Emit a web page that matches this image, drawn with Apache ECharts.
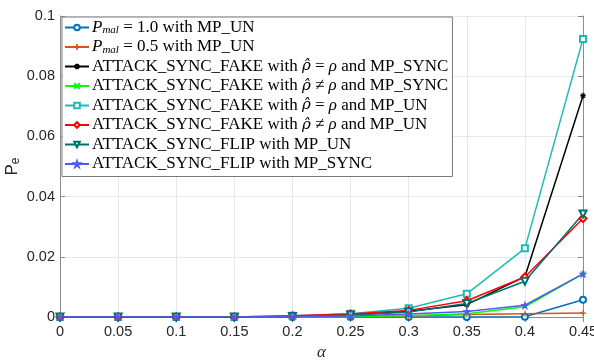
<!DOCTYPE html>
<html>
<head>
<meta charset="utf-8">
<script src="https://cdn.jsdelivr.net/npm/echarts@6/dist/echarts.min.js"></script>
<style>
  html, body { margin: 0; padding: 0; background: #fff; }
  #chart { width: 594px; height: 362px; }
</style>
</head>
<body>
<div id="chart"></div>
<script>
// alpha values on the x axis
const alphas = ['0', '0.05', '0.1', '0.15', '0.2', '0.25', '0.3', '0.35', '0.4', '0.45']
const yTicks = [0, 0.02, 0.04, 0.06, 0.08, 0.1]

const names = [
  'pmal10_un',
  'pmal05_un',
  'fake_eq_sync',
  'fake_ne_sync',
  'fake_eq_un',
  'fake_ne_un',
  'flip_un',
  'flip_sync'
]

const pmal10Un = [0, 0, 0, 0, 0, 0, 0, 0, 0.0001, 0.0057]
const pmal05Un = [0, 0, 0, 0, 0, 0.0001, 0.0003, 0.0008, 0.0011, 0.0013]
const fakeEqSync = [0, 0, 0, 0, 0.0002, 0.0006, 0.0019, 0.0041, 0.0134, 0.0735]
const fakeNeSync = [0, 0, 0, 0, 0.0001, 0.0002, 0.0004, 0.0011, 0.0034, 0.0143]
const fakeEqUn = [0, 0, 0, 0, 0.0004, 0.0011, 0.0029, 0.0077, 0.0228, 0.0924]
const fakeNeUn = [0, 0, 0, 0, 0.0004, 0.0010, 0.0022, 0.0054, 0.0133, 0.0327]
const flipUn = [0, 0, 0, 0, 0.0002, 0.0007, 0.0017, 0.0045, 0.0119, 0.0342]
const flipSync = [0, 0, 0, 0, 0.0002, 0.0003, 0.0010, 0.0018, 0.0039, 0.0143]

const legendLabels = {
  pmal10_un: '{i|P}{s|mal}{r| = 1.0 with MP_UN}',
  pmal05_un: '{i|P}{s|mal}{r| = 0.5 with MP_UN}',
  fake_eq_sync: '{r|ATTACK_SYNC_FAKE with }{h|ρ̂}{r| = }{i|ρ}{r| and MP_SYNC}',
  fake_ne_sync: '{r|ATTACK_SYNC_FAKE with }{h|ρ̂}{r| ≠ }{i|ρ}{r| and MP_SYNC}',
  fake_eq_un: '{r|ATTACK_SYNC_FAKE with }{h|ρ̂}{r| = }{i|ρ}{r| and MP_UN}',
  fake_ne_un: '{r|ATTACK_SYNC_FAKE with }{h|ρ̂}{r| ≠ }{i|ρ}{r| and MP_UN}',
  flip_un: '{r|ATTACK_SYNC_FLIP with MP_UN}',
  flip_sync: '{r|ATTACK_SYNC_FLIP with MP_SYNC}'
}

const plusPath = 'path://M5,0L5,10M0,5L10,5'
const crossPath = 'path://M0,0L10,10M10,0L0,10'
const asteriskPath = 'path://M5,0L5,10M0,5L10,5M1.5,1.5L8.5,8.5M8.5,1.5L1.5,8.5'
const starPath = 'path://M5,0L6.2,3.6L10,3.6L6.9,5.8L8.1,9.5L5,7.2L1.9,9.5L3.1,5.8L0,3.6L3.8,3.6Z'

const serif = '"Liberation Serif", "DejaVu Serif", serif'
const sans = '"Liberation Sans", Arial, sans-serif'

function makeSeries (name, data, color, symbol, size, rotate) {
  return {
    name: name,
    type: 'line',
    data: data,
    symbol: symbol,
    symbolSize: size,
    symbolRotate: rotate || 0,
    showAllSymbol: true,
    lineStyle: { color: color, width: 1.5 },
    itemStyle: { color: color, borderColor: color, borderWidth: 1.1 },
    emphasis: { disabled: true },
    animation: false
  }
}

const chart = echarts.init(document.getElementById('chart'))

chart.setOption({
  backgroundColor: '#fff',
  grid: {
    left: 60,
    right: 11,
    top: 16,
    bottom: 45,
    containLabel: false,
    outerBoundsMode: 'none'
  },
  legend: {
    orient: 'vertical',
    left: 62,
    top: 17,
    padding: [2, 4, 4, 2],
    itemWidth: 24,
    itemHeight: 7,
    itemGap: 2.5,
    backgroundColor: '#fff',
    borderColor: '#7a7a7a',
    borderWidth: 1,
    selectedMode: false,
    data: names,
    formatter: function (name) {
      return legendLabels[name]
    },
    textStyle: {
      color: '#000',
      padding: [0, 0, 0, -2],
      rich: {
        r: { fontFamily: serif, fontSize: 17, lineHeight: 17, color: '#000' },
        i: { fontFamily: serif, fontSize: 17, lineHeight: 17, fontStyle: 'italic', color: '#000' },
        h: { fontFamily: '"DejaVu Serif", serif', fontSize: 15, lineHeight: 17, fontStyle: 'italic', color: '#000' },
        s: { fontFamily: serif, fontSize: 11, lineHeight: 17, fontStyle: 'italic', color: '#000', padding: [6, 0, 0, 0] }
      }
    }
  },
  xAxis: [
    {
      type: 'category',
      data: alphas,
      boundaryGap: false,
      name: 'α',
      nameLocation: 'middle',
      nameGap: 26,
      nameTextStyle: { fontFamily: serif, fontStyle: 'italic', fontSize: 17, color: '#262626' },
      axisLine: { show: true, lineStyle: { color: '#8c8c8c', width: 1 } },
      axisTick: { show: true, inside: true, length: 5, alignWithLabel: true, lineStyle: { color: '#8c8c8c' } },
      axisLabel: { fontFamily: sans, fontSize: 14.5, color: '#262626', margin: 7 },
      splitLine: { show: true, lineStyle: { color: '#e8e8e8', width: 1 } }
    },
    {
      type: 'category',
      data: alphas,
      boundaryGap: false,
      position: 'top',
      axisLine: { show: true, lineStyle: { color: '#8c8c8c', width: 1 } },
      axisTick: { show: true, inside: true, length: 5, alignWithLabel: true, lineStyle: { color: '#8c8c8c' } },
      axisLabel: { show: false },
      splitLine: { show: false }
    }
  ],
  yAxis: [
    {
      type: 'value',
      min: yTicks[0],
      max: yTicks[yTicks.length - 1],
      interval: 0.02,
      name: '{p|P}{e|e}',
      nameLocation: 'middle',
      nameRotate: 90,
      nameGap: 38,
      nameMoveOverlap: false,
      nameTextStyle: {
        rich: {
          p: { fontFamily: sans, fontSize: 17, color: '#262626' },
          e: { fontFamily: sans, fontSize: 12, color: '#262626', padding: [7, 0, 0, 0] }
        }
      },
      axisLine: { show: true, lineStyle: { color: '#8c8c8c', width: 1 } },
      axisTick: { show: true, inside: true, length: 5, lineStyle: { color: '#8c8c8c' } },
      axisLabel: {
        fontFamily: sans,
        fontSize: 14.5,
        color: '#262626',
        margin: 5,
        formatter: function (v) { return String(+v.toFixed(2)) }
      },
      splitLine: { show: true, lineStyle: { color: '#e8e8e8', width: 1 } }
    },
    {
      type: 'value',
      min: yTicks[0],
      max: yTicks[yTicks.length - 1],
      interval: 0.02,
      position: 'right',
      axisLine: { show: true, lineStyle: { color: '#8c8c8c', width: 1 } },
      axisTick: { show: true, inside: true, length: 5, lineStyle: { color: '#8c8c8c' } },
      axisLabel: { show: false },
      splitLine: { show: false }
    }
  ],
  series: [
    makeSeries(names[0], pmal10Un, '#0072BD', 'emptyCircle', 6),
    makeSeries(names[1], pmal05Un, '#D95319', plusPath, 6),
    makeSeries(names[2], fakeEqSync, '#000000', asteriskPath, 6),
    makeSeries(names[3], fakeNeSync, '#00FF00', crossPath, 5),
    makeSeries(names[4], fakeEqUn, '#20B8B8', 'emptyRect', 6),
    makeSeries(names[5], fakeNeUn, '#FF0000', 'emptyDiamond', 7),
    makeSeries(names[6], flipUn, '#00706B', 'emptyTriangle', 7, 180),
    makeSeries(names[7], flipSync, '#4F5BEF', starPath, 6)
  ]
})
</script>
</body>
</html>
